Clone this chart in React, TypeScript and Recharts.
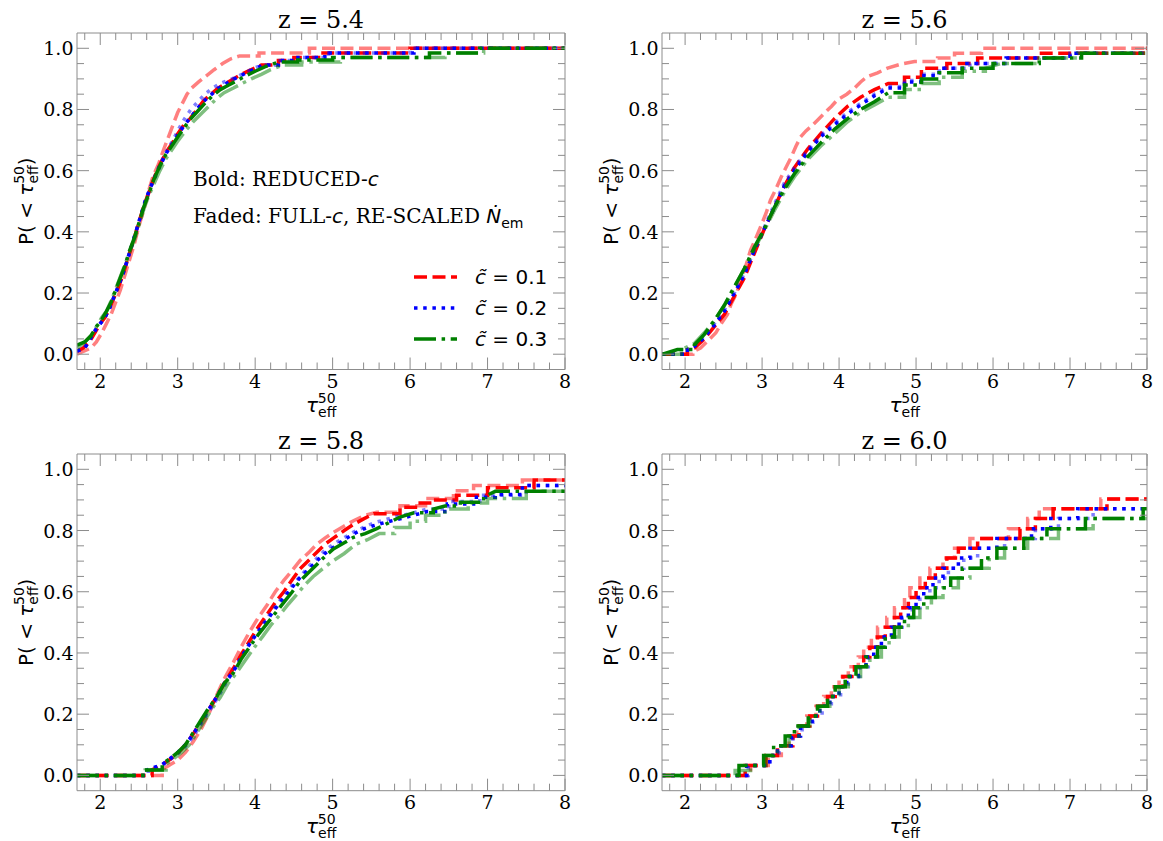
import { Legend, Line, LineChart, XAxis, YAxis } from "recharts";

const FRAME = "#8c8c8c";
const SERIF = "'DejaVu Serif', serif";
const SANS = "'DejaVu Sans', sans-serif";

// tick positions and labels
const xTicks = [1.8, 2, 2.2, 2.4, 2.6, 2.8, 3, 3.2, 3.4, 3.6, 3.8, 4, 4.2, 4.4, 4.6, 4.8, 5, 5.2, 5.4, 5.6, 5.8, 6, 6.2, 6.4, 6.6, 6.8, 7, 7.2, 7.4, 7.6, 7.8, 8];
const xMajor = [2, 3, 4, 5, 6, 7, 8];
const yTicks = [0, 0.05, 0.1, 0.15, 0.2, 0.25, 0.3, 0.35, 0.4, 0.45, 0.5, 0.55, 0.6, 0.65, 0.7, 0.75, 0.8, 0.85, 0.9, 0.95, 1];
const yMajor = [0, 0.2, 0.4, 0.6, 0.8, 1];
const X_DOMAIN: [number, number] = [1.7, 8];
const Y_DOMAIN: [number, number] = [-0.05, 1.05];

const titles = ["z = 5.4", "z = 5.6", "z = 5.8", "z = 6.0"];
const cValues = ["0.1", "0.2", "0.3"];

type P = [number, number];

// ---- z = 5.4 ----
const redBold54: P[] = [[1.7, 0.01], [1.78, 0.02], [1.86, 0.04], [1.93, 0.07], [2.0, 0.1], [2.06, 0.12], [2.12, 0.15], [2.17, 0.18], [2.22, 0.21], [2.28, 0.25], [2.33, 0.29], [2.39, 0.34], [2.45, 0.39], [2.51, 0.44], [2.57, 0.49], [2.63, 0.53], [2.7, 0.58], [2.77, 0.62], [2.85, 0.66], [2.93, 0.69], [3.0, 0.72], [3.08, 0.75], [3.16, 0.77], [3.25, 0.8], [3.34, 0.83], [3.43, 0.85], [3.52, 0.87], [3.62, 0.885], [3.72, 0.9], [3.82, 0.915], [3.95, 0.93], [4.08, 0.945], [4.3, 0.96], [4.5, 0.97], [4.85, 0.985], [6.0, 1.0], [8.0, 1.0]];
const redFaded54: P[] = [[1.7, 0.0], [1.88, 0.02], [1.95, 0.04], [2.02, 0.07], [2.08, 0.1], [2.14, 0.13], [2.2, 0.17], [2.26, 0.21], [2.32, 0.26], [2.38, 0.31], [2.44, 0.36], [2.5, 0.42], [2.56, 0.47], [2.62, 0.53], [2.68, 0.58], [2.75, 0.62], [2.82, 0.67], [2.88, 0.71], [2.94, 0.75], [3.0, 0.79], [3.06, 0.82], [3.12, 0.85], [3.18, 0.87], [3.27, 0.89], [3.37, 0.91], [3.47, 0.93], [3.58, 0.95], [3.68, 0.965], [3.8, 0.975], [4.05, 0.985], [4.7, 1.0], [8.0, 1.0]];
const blueBold54: P[] = [[1.7, 0.01], [1.8, 0.02], [1.87, 0.05], [1.94, 0.08], [2.0, 0.1], [2.06, 0.12], [2.12, 0.15], [2.18, 0.19], [2.23, 0.22], [2.29, 0.26], [2.34, 0.3], [2.4, 0.35], [2.46, 0.4], [2.52, 0.45], [2.58, 0.5], [2.64, 0.54], [2.71, 0.58], [2.78, 0.62], [2.86, 0.66], [2.94, 0.69], [3.01, 0.72], [3.09, 0.75], [3.17, 0.775], [3.26, 0.805], [3.35, 0.83], [3.44, 0.85], [3.53, 0.87], [3.63, 0.885], [3.73, 0.9], [3.85, 0.915], [3.97, 0.93], [4.1, 0.945], [4.3, 0.96], [4.52, 0.97], [4.9, 0.985], [6.05, 1.0], [8.0, 1.0]];
const blueFaded54: P[] = [[1.7, 0.01], [1.8, 0.02], [1.87, 0.05], [1.94, 0.08], [2.0, 0.1], [2.06, 0.12], [2.12, 0.15], [2.18, 0.19], [2.23, 0.22], [2.29, 0.26], [2.34, 0.3], [2.4, 0.35], [2.46, 0.4], [2.52, 0.45], [2.58, 0.5], [2.64, 0.54], [2.71, 0.585], [2.78, 0.625], [2.86, 0.665], [2.94, 0.7], [3.01, 0.735], [3.09, 0.77], [3.17, 0.8], [3.26, 0.825], [3.35, 0.85], [3.45, 0.87], [3.55, 0.885], [3.65, 0.895], [3.75, 0.905], [3.87, 0.92], [3.98, 0.935], [4.1, 0.945], [4.3, 0.96], [4.55, 0.97], [4.95, 0.985], [6.0, 1.0], [8.0, 1.0]];
const greenBold54: P[] = [[1.7, 0.03], [1.8, 0.04], [1.88, 0.06], [1.95, 0.09], [2.01, 0.11], [2.08, 0.14], [2.14, 0.17], [2.2, 0.21], [2.26, 0.25], [2.32, 0.29], [2.38, 0.34], [2.44, 0.38], [2.5, 0.43], [2.56, 0.48], [2.62, 0.52], [2.69, 0.57], [2.76, 0.61], [2.84, 0.65], [2.92, 0.68], [3.0, 0.71], [3.08, 0.74], [3.17, 0.77], [3.26, 0.795], [3.35, 0.82], [3.45, 0.845], [3.55, 0.865], [3.66, 0.88], [3.77, 0.895], [3.88, 0.91], [4.0, 0.925], [4.13, 0.94], [4.3, 0.955], [4.55, 0.962], [5.0, 0.97], [6.25, 0.985], [6.9, 1.0], [8.0, 1.0]];
const greenFaded54: P[] = [[1.7, 0.02], [1.8, 0.04], [1.88, 0.06], [1.95, 0.09], [2.02, 0.12], [2.08, 0.14], [2.15, 0.18], [2.21, 0.22], [2.27, 0.26], [2.33, 0.3], [2.39, 0.34], [2.45, 0.38], [2.51, 0.43], [2.57, 0.48], [2.63, 0.52], [2.7, 0.56], [2.77, 0.6], [2.85, 0.64], [2.93, 0.67], [3.01, 0.7], [3.1, 0.73], [3.2, 0.76], [3.3, 0.785], [3.4, 0.81], [3.5, 0.835], [3.6, 0.855], [3.72, 0.87], [3.83, 0.885], [3.95, 0.9], [4.08, 0.915], [4.2, 0.93], [4.35, 0.945], [4.6, 0.955], [5.1, 0.97], [6.45, 0.985], [6.95, 1.0], [8.0, 1.0]];

// ---- z = 5.6 ----
const redBold56: P[] = [[1.7, 0], [2.03, 0.015], [2.12, 0.02], [2.25, 0.05], [2.38, 0.09], [2.51, 0.13], [2.64, 0.19], [2.77, 0.25], [2.9, 0.33], [3.03, 0.41], [3.16, 0.48], [3.29, 0.55], [3.42, 0.61], [3.59, 0.67], [3.76, 0.72], [3.94, 0.77], [4.11, 0.81], [4.28, 0.84], [4.46, 0.865], [4.64, 0.885], [4.85, 0.905], [5.07, 0.935], [5.4, 0.95], [5.8, 0.968], [6.6, 0.984], [7.95, 1.0], [8.0, 1.0]];
const redFaded56: P[] = [[1.7, 0], [2.1, 0.008], [2.2, 0.02], [2.3, 0.045], [2.4, 0.07], [2.47, 0.1], [2.55, 0.13], [2.6, 0.165], [2.67, 0.2], [2.72, 0.24], [2.79, 0.29], [2.85, 0.34], [2.92, 0.38], [2.98, 0.416], [3.05, 0.46], [3.11, 0.504], [3.18, 0.54], [3.25, 0.58], [3.32, 0.615], [3.38, 0.645], [3.44, 0.68], [3.5, 0.71], [3.57, 0.73], [3.64, 0.745], [3.72, 0.765], [3.81, 0.788], [3.9, 0.81], [3.98, 0.832], [4.1, 0.85], [4.2, 0.87], [4.28, 0.89], [4.37, 0.908], [4.5, 0.92], [4.63, 0.935], [4.8, 0.948], [4.98, 0.957], [5.28, 0.968], [5.5, 0.984], [5.85, 1.0], [8.0, 1.0]];
const blueBold56: P[] = [[1.7, 0], [2.03, 0.015], [2.12, 0.025], [2.25, 0.055], [2.38, 0.095], [2.51, 0.14], [2.64, 0.2], [2.77, 0.26], [2.9, 0.34], [3.03, 0.41], [3.16, 0.48], [3.29, 0.55], [3.42, 0.6], [3.59, 0.66], [3.76, 0.71], [3.94, 0.75], [4.11, 0.785], [4.28, 0.815], [4.46, 0.845], [4.64, 0.87], [4.85, 0.89], [5.07, 0.91], [5.3, 0.935], [5.6, 0.95], [6.17, 0.968], [7.0, 0.984], [8.0, 0.984]];
const blueFaded56: P[] = [[1.7, 0], [2.0, 0.01], [2.12, 0.03], [2.25, 0.06], [2.38, 0.1], [2.51, 0.145], [2.64, 0.2], [2.77, 0.265], [2.9, 0.34], [3.03, 0.415], [3.16, 0.49], [3.29, 0.56], [3.42, 0.61], [3.59, 0.665], [3.76, 0.715], [3.94, 0.755], [4.11, 0.79], [4.28, 0.82], [4.46, 0.85], [4.64, 0.875], [4.85, 0.895], [5.07, 0.915], [5.3, 0.935], [5.7, 0.95], [6.2, 0.968], [7.0, 0.984], [8.0, 0.984]];
const greenBold56: P[] = [[1.7, 0], [1.9, 0.015], [2.12, 0.03], [2.25, 0.065], [2.38, 0.11], [2.51, 0.16], [2.64, 0.22], [2.77, 0.28], [2.9, 0.35], [3.03, 0.41], [3.16, 0.48], [3.29, 0.54], [3.42, 0.59], [3.59, 0.645], [3.76, 0.69], [3.94, 0.735], [4.11, 0.77], [4.28, 0.8], [4.46, 0.825], [4.64, 0.855], [4.85, 0.88], [5.07, 0.9], [5.3, 0.92], [5.6, 0.935], [6.0, 0.95], [6.6, 0.968], [7.15, 0.984], [8.0, 0.984]];
const greenFaded56: P[] = [[1.7, 0], [1.95, 0.015], [2.12, 0.035], [2.25, 0.07], [2.38, 0.11], [2.51, 0.16], [2.64, 0.22], [2.77, 0.28], [2.9, 0.345], [3.03, 0.405], [3.16, 0.47], [3.29, 0.53], [3.42, 0.58], [3.59, 0.635], [3.76, 0.68], [3.94, 0.72], [4.11, 0.76], [4.28, 0.79], [4.46, 0.815], [4.64, 0.84], [4.85, 0.865], [5.07, 0.885], [5.3, 0.905], [5.6, 0.925], [5.9, 0.935], [6.1, 0.95], [6.6, 0.968], [7.1, 0.984], [8.0, 0.984]];

// ---- z = 5.8 ----
const redBold58: P[] = [[1.7, 0], [2.67, 0.018], [2.8, 0.035], [2.9, 0.052], [3.0, 0.072], [3.1, 0.1], [3.2, 0.135], [3.3, 0.175], [3.4, 0.215], [3.5, 0.255], [3.6, 0.3], [3.72, 0.35], [3.82, 0.395], [3.93, 0.44], [4.04, 0.485], [4.15, 0.525], [4.26, 0.565], [4.37, 0.6], [4.48, 0.64], [4.58, 0.675], [4.7, 0.705], [4.8, 0.73], [4.9, 0.755], [5.01, 0.775], [5.15, 0.8], [5.27, 0.82], [5.4, 0.838], [5.53, 0.855], [5.87, 0.876], [6.1, 0.89], [6.3, 0.9], [6.6, 0.915], [7.0, 0.94], [7.6, 0.965], [8.0, 0.965]];
const redFaded58: P[] = [[1.7, 0], [2.8, 0.018], [2.9, 0.035], [3.0, 0.05], [3.1, 0.075], [3.2, 0.11], [3.3, 0.15], [3.4, 0.2], [3.5, 0.26], [3.6, 0.315], [3.72, 0.37], [3.82, 0.42], [3.93, 0.47], [4.04, 0.515], [4.15, 0.555], [4.26, 0.6], [4.37, 0.637], [4.48, 0.67], [4.58, 0.702], [4.7, 0.73], [4.8, 0.756], [4.9, 0.775], [5.01, 0.794], [5.15, 0.815], [5.27, 0.832], [5.4, 0.848], [5.57, 0.86], [5.87, 0.881], [6.2, 0.905], [6.56, 0.93], [6.82, 0.947], [7.45, 0.965], [8.0, 0.965]];
const blueBold58: P[] = [[1.7, 0], [2.6, 0.018], [2.8, 0.035], [2.9, 0.055], [3.0, 0.075], [3.1, 0.1], [3.2, 0.135], [3.3, 0.175], [3.4, 0.215], [3.5, 0.255], [3.6, 0.3], [3.72, 0.34], [3.82, 0.385], [3.93, 0.43], [4.04, 0.47], [4.15, 0.506], [4.26, 0.545], [4.37, 0.58], [4.48, 0.615], [4.58, 0.647], [4.7, 0.675], [4.8, 0.702], [4.9, 0.725], [5.01, 0.745], [5.15, 0.77], [5.27, 0.789], [5.4, 0.805], [5.53, 0.816], [5.7, 0.828], [5.87, 0.838], [6.05, 0.85], [6.22, 0.862], [6.48, 0.887], [6.82, 0.909], [7.1, 0.918], [7.45, 0.947], [8.0, 0.947]];
const blueFaded58: P[] = [[1.7, 0], [2.62, 0.018], [2.82, 0.035], [2.92, 0.055], [3.02, 0.075], [3.12, 0.1], [3.22, 0.135], [3.32, 0.175], [3.42, 0.215], [3.52, 0.255], [3.62, 0.3], [3.73, 0.345], [3.83, 0.39], [3.94, 0.435], [4.05, 0.475], [4.16, 0.515], [4.27, 0.555], [4.38, 0.59], [4.49, 0.625], [4.6, 0.655], [4.7, 0.685], [4.8, 0.71], [4.9, 0.735], [5.01, 0.755], [5.15, 0.777], [5.27, 0.795], [5.4, 0.81], [5.53, 0.825], [5.7, 0.837], [5.87, 0.848], [6.05, 0.858], [6.22, 0.87], [6.5, 0.895], [6.9, 0.915], [7.5, 0.947], [8.0, 0.947]];
const greenBold58: P[] = [[1.7, 0], [2.55, 0.018], [2.8, 0.037], [2.9, 0.055], [3.0, 0.075], [3.1, 0.1], [3.2, 0.14], [3.3, 0.18], [3.4, 0.22], [3.5, 0.255], [3.6, 0.3], [3.72, 0.335], [3.82, 0.38], [3.93, 0.42], [4.04, 0.46], [4.15, 0.495], [4.26, 0.53], [4.37, 0.565], [4.48, 0.6], [4.58, 0.635], [4.7, 0.665], [4.8, 0.69], [4.9, 0.715], [5.01, 0.74], [5.15, 0.76], [5.27, 0.778], [5.42, 0.79], [5.57, 0.806], [5.72, 0.825], [5.87, 0.844], [6.05, 0.858], [6.3, 0.87], [6.45, 0.88], [6.65, 0.892], [6.95, 0.91], [7.1, 0.928], [8.0, 0.928]];
const greenFaded58: P[] = [[1.7, 0], [2.58, 0.018], [2.85, 0.037], [2.95, 0.055], [3.05, 0.075], [3.15, 0.1], [3.25, 0.14], [3.35, 0.18], [3.45, 0.22], [3.55, 0.255], [3.65, 0.3], [3.76, 0.335], [3.87, 0.375], [3.98, 0.415], [4.1, 0.455], [4.2, 0.49], [4.32, 0.525], [4.43, 0.56], [4.55, 0.595], [4.65, 0.625], [4.75, 0.65], [4.87, 0.675], [5.0, 0.7], [5.15, 0.725], [5.3, 0.755], [5.45, 0.77], [5.6, 0.79], [5.8, 0.81], [6.0, 0.83], [6.2, 0.85], [6.45, 0.87], [6.75, 0.89], [7.0, 0.905], [7.5, 0.928], [8.0, 0.928]];

// ---- z = 6.0 ----
const redBold60: P[] = [[1.7, 0], [2.78, 0.032], [3.05, 0.065], [3.2, 0.097], [3.4, 0.129], [3.48, 0.161], [3.62, 0.194], [3.72, 0.226], [3.85, 0.258], [3.95, 0.29], [4.05, 0.323], [4.2, 0.355], [4.32, 0.387], [4.4, 0.419], [4.5, 0.452], [4.6, 0.484], [4.72, 0.516], [4.8, 0.548], [4.9, 0.581], [5.0, 0.613], [5.12, 0.645], [5.25, 0.677], [5.4, 0.71], [5.55, 0.742], [5.8, 0.774], [6.35, 0.806], [6.55, 0.839], [6.78, 0.871], [7.48, 0.903], [8.0, 0.903]];
const redFaded60: P[] = [[1.7, 0], [2.85, 0.032], [3.08, 0.065], [3.25, 0.097], [3.35, 0.129], [3.45, 0.161], [3.58, 0.194], [3.7, 0.226], [3.8, 0.258], [3.9, 0.29], [4.0, 0.323], [4.12, 0.355], [4.25, 0.387], [4.32, 0.419], [4.42, 0.452], [4.5, 0.484], [4.62, 0.516], [4.72, 0.548], [4.85, 0.581], [4.92, 0.613], [5.05, 0.645], [5.18, 0.677], [5.35, 0.71], [5.5, 0.742], [5.7, 0.774], [6.2, 0.806], [6.45, 0.839], [6.6, 0.871], [7.4, 0.903], [8.0, 0.903]];
const blueBold60: P[] = [[1.7, 0], [2.8, 0.032], [3.1, 0.065], [3.2, 0.097], [3.38, 0.129], [3.5, 0.161], [3.65, 0.194], [3.75, 0.226], [3.88, 0.258], [4.0, 0.29], [4.1, 0.323], [4.25, 0.355], [4.35, 0.387], [4.45, 0.419], [4.55, 0.452], [4.68, 0.484], [4.78, 0.516], [4.9, 0.548], [5.0, 0.581], [5.1, 0.613], [5.22, 0.645], [5.35, 0.677], [5.55, 0.71], [5.7, 0.742], [6.05, 0.774], [6.5, 0.806], [6.75, 0.839], [7.1, 0.871], [8.0, 0.871]];
const blueFaded60: P[] = [[1.7, 0], [2.82, 0.032], [3.1, 0.065], [3.22, 0.097], [3.4, 0.129], [3.52, 0.161], [3.66, 0.194], [3.78, 0.226], [3.9, 0.258], [4.02, 0.29], [4.12, 0.323], [4.27, 0.355], [4.38, 0.387], [4.48, 0.419], [4.6, 0.452], [4.72, 0.484], [4.82, 0.516], [4.95, 0.548], [5.05, 0.581], [5.18, 0.613], [5.3, 0.645], [5.42, 0.677], [5.62, 0.71], [5.8, 0.742], [6.15, 0.774], [6.55, 0.806], [6.85, 0.839], [7.3, 0.871], [8.0, 0.871]];
const greenBold60: P[] = [[1.7, 0], [2.7, 0.032], [3.02, 0.065], [3.15, 0.097], [3.3, 0.129], [3.42, 0.161], [3.6, 0.194], [3.72, 0.226], [3.85, 0.258], [3.95, 0.29], [4.08, 0.323], [4.22, 0.355], [4.35, 0.387], [4.5, 0.419], [4.6, 0.452], [4.72, 0.484], [4.85, 0.516], [4.97, 0.548], [5.1, 0.581], [5.25, 0.613], [5.45, 0.645], [5.6, 0.677], [5.85, 0.71], [6.05, 0.742], [6.4, 0.774], [6.7, 0.806], [7.2, 0.839], [7.95, 0.871], [8.0, 0.871]];
const greenFaded60: P[] = [[1.7, 0], [2.65, 0.016], [2.85, 0.032], [3.05, 0.065], [3.2, 0.097], [3.35, 0.129], [3.48, 0.161], [3.62, 0.194], [3.75, 0.226], [3.88, 0.258], [4.0, 0.29], [4.12, 0.323], [4.28, 0.355], [4.4, 0.387], [4.55, 0.419], [4.65, 0.452], [4.78, 0.484], [4.9, 0.516], [5.05, 0.548], [5.2, 0.581], [5.35, 0.613], [5.55, 0.645], [5.7, 0.677], [5.95, 0.71], [6.15, 0.742], [6.45, 0.774], [6.85, 0.806], [7.3, 0.839], [8.0, 0.839]];

const STYLE: Record<string, { color: string; dash: string }> = {
  red: { color: "#ff0000", dash: "13 5.5" },
  blue: { color: "#0000ff", dash: "3.5 5.7" },
  green: { color: "#008000", dash: "22 5.6 3.5 5.6" },
};
const COLORS = ["red", "blue", "green"];
const legendNames = cValues.map((c) => `c = ${c}`);

type PanelCfg = {
  title: string;
  left: number;
  top: number;
  width: number;
  height: number;
  right: number;
  bottom: number;
  bold: P[][];
  faded: P[][];
  stepped: boolean;
  legend?: boolean;
};

const panels: PanelCfg[] = [
  { title: titles[0], left: 0, top: 0, width: 585, height: 420, right: 12, bottom: 20.5, bold: [redBold54, blueBold54, greenBold54], faded: [redFaded54, blueFaded54, greenFaded54], stepped: false, legend: true },
  { title: titles[1], left: 585, top: 0, width: 578, height: 420, right: 8, bottom: 20.5, bold: [redBold56, blueBold56, greenBold56], faded: [redFaded56, blueFaded56, greenFaded56], stepped: false },
  { title: titles[2], left: 0, top: 421, width: 585, height: 420, right: 12, bottom: 20.3, bold: [redBold58, blueBold58, greenBold58], faded: [redFaded58, blueFaded58, greenFaded58], stepped: false },
  { title: titles[3], left: 585, top: 421, width: 578, height: 420, right: 8, bottom: 20.3, bold: [redBold60, blueBold60, greenBold60], faded: [redFaded60, blueFaded60, greenFaded60], stepped: true },
];

// CDF rows: where two read points are far apart the curve stays flat and then jumps
const toRows = (pts: P[]) => {
  const rows: { tau: number; p: number }[] = [];
  pts.forEach(([tau, p], i) => {
    if (i > 0 && tau - pts[i - 1][0] >= 0.2) rows.push({ tau, p: pts[i - 1][1] });
    rows.push({ tau, p });
  });
  return rows;
};
const isMajor = (v: number, majors: number[]) => majors.some((m) => Math.abs(m - v) < 1e-6);

const BottomTick = (props: any) => {
  const { x, y, payload } = props;
  const major = isMajor(payload.value, xMajor);
  return (
    <g>
      <line x1={x} x2={x} y1={y} y2={y - (major ? 12 : 7)} stroke={FRAME} />
      {major && (
        <text x={x} y={y + 18} textAnchor="middle" fontFamily={SERIF} fontSize={19} fill="#000">
          {payload.value}
        </text>
      )}
    </g>
  );
};

const TopTick = (props: any) => {
  const { x, y, payload } = props;
  const major = isMajor(payload.value, xMajor);
  return <line x1={x} x2={x} y1={y} y2={y + (major ? 12 : 7)} stroke={FRAME} />;
};

const LeftTick = (props: any) => {
  const { x, y, payload } = props;
  const major = isMajor(payload.value, yMajor);
  return (
    <g>
      <line x1={x} x2={x + (major ? 12 : 7)} y1={y} y2={y} stroke={FRAME} />
      {major && (
        <text x={x - 3.5} y={y + 7} textAnchor="end" fontFamily={SERIF} fontSize={19} fill="#000">
          {Number(payload.value).toFixed(1)}
        </text>
      )}
    </g>
  );
};

const RightTick = (props: any) => {
  const { x, y, payload } = props;
  const major = isMajor(payload.value, yMajor);
  return <line x1={x} x2={x - (major ? 12 : 7)} y1={y} y2={y} stroke={FRAME} />;
};

const TitleLabel = ({ viewBox, text }: any) => {
  const { x, y, width, height } = viewBox;
  return (
    <text x={x + width / 2} y={y + height - 5.5} textAnchor="middle" fontFamily={SERIF} fontSize={24} fill="#000">
      {text}
    </text>
  );
};

const TauLabel = ({ viewBox }: any) => {
  const { x, y, width } = viewBox;
  const cx = x + width / 2;
  return (
    <text x={cx - 15} y={y + 42} fontFamily={SANS} fontSize={20} fill="#000">
      <tspan fontStyle="italic">τ</tspan>
      <tspan fontSize={14} dy={5}>eff</tspan>
      <tspan fontSize={14} dx={-18.5} dy={-14}>50</tspan>
    </text>
  );
};

const PLabel = ({ viewBox }: any) => {
  const { x, y, width, height } = viewBox;
  const bx = x + width - 44;
  const cy = y + height / 2;
  return (
    <g transform={`translate(${bx},${cy}) rotate(-90)`}>
      <text x={0} y={0} textAnchor="middle" fontFamily={SANS} fontSize={20} fill="#000">
        <tspan>P( &lt; </tspan>
        <tspan fontStyle="italic">τ</tspan>
        <tspan fontSize={14} dy={5}>eff</tspan>
        <tspan fontSize={14} dx={-18.5} dy={-14}>50</tspan>
        <tspan dx={0.7} dy={9}>)</tspan>
      </text>
    </g>
  );
};

const LegendBox = ({ payload }: any) => {
  const entries = (payload || []).filter((e: any) => legendNames.includes(e.value));
  return (
    <svg width={165} height={95} style={{ display: "block" }}>
      {entries.map((entry: any) => {
        const i = legendNames.indexOf(entry.value);
        const st = STYLE[COLORS[i]];
        const cy = 15 + i * 31;
        return (
          <g key={entry.value}>
            <line x1={14} x2={57} y1={cy} y2={cy} stroke={st.color} strokeWidth={3.5} strokeDasharray={st.dash} />
            <text x={75} y={cy + 7} fontFamily={SANS} fontSize={20} fill="#000">
              <tspan fontStyle="italic">c̃</tspan> = {cValues[i]}
            </text>
          </g>
        );
      })}
    </svg>
  );
};

const Panel = ({ cfg }: { cfg: PanelCfg }) => {
  const series: any[] = [];
  COLORS.forEach((c, i) => {
    series.push({ key: `${c}-bold`, data: cfg.bold[i], color: c, faded: false, name: legendNames[i] });
    series.push({ key: `${c}-faded`, data: cfg.faded[i], color: c, faded: true, name: `faded ${cValues[i]}` });
  });
  return (
    <div style={{ position: "absolute", left: cfg.left, top: cfg.top }}>
      <LineChart width={cfg.width} height={cfg.height} margin={{ top: 25, left: 27, right: cfg.right, bottom: cfg.bottom }}>
        <XAxis
          xAxisId="b"
          type="number"
          dataKey="tau"
          domain={X_DOMAIN}
          allowDataOverflow
          ticks={xTicks}
          interval={0}
          tick={<BottomTick />}
          tickSize={0}
          tickMargin={0}
          tickLine={false}
          axisLine={{ stroke: FRAME }}
          height={30}
          label={{ content: (p: any) => <TauLabel viewBox={p.viewBox} /> }}
        />
        <XAxis
          xAxisId="t"
          orientation="top"
          type="number"
          dataKey="tau"
          domain={X_DOMAIN}
          allowDataOverflow
          ticks={xTicks}
          interval={0}
          tick={<TopTick />}
          tickSize={0}
          tickMargin={0}
          tickLine={false}
          axisLine={{ stroke: FRAME }}
          height={8}
          label={{ content: (p: any) => <TitleLabel viewBox={p.viewBox} text={cfg.title} /> }}
        />
        <YAxis
          yAxisId="l"
          type="number"
          domain={Y_DOMAIN}
          allowDataOverflow
          ticks={yTicks}
          interval={0}
          tick={<LeftTick />}
          tickSize={0}
          tickMargin={0}
          tickLine={false}
          axisLine={{ stroke: FRAME }}
          width={50}
          label={{ content: (p: any) => <PLabel viewBox={p.viewBox} /> }}
        />
        <YAxis
          yAxisId="r"
          orientation="right"
          type="number"
          domain={Y_DOMAIN}
          allowDataOverflow
          ticks={yTicks}
          interval={0}
          tick={<RightTick />}
          tickSize={0}
          tickMargin={0}
          tickLine={false}
          axisLine={{ stroke: FRAME }}
          width={8}
        />
        {series.map((s) => (
          <Line
            key={s.key}
            xAxisId="b"
            yAxisId="l"
            data={cfg.stepped ? s.data.map(([tau, p]: P) => ({ tau, p })) : toRows(s.data)}
            dataKey="p"
            name={s.name}
            type={cfg.stepped ? "stepAfter" : "linear"}
            stroke={STYLE[s.color].color}
            strokeOpacity={s.faded ? 0.5 : 1}
            strokeWidth={3.5}
            strokeDasharray={STYLE[s.color].dash}
            dot={false}
            activeDot={false}
            legendType={s.faded ? "none" : "line"}
            isAnimationActive={false}
          />
        ))}
        {cfg.legend && (
          <Legend
            layout="vertical"
            align="center"
            verticalAlign="middle"
            wrapperStyle={{ left: 400, top: 262, width: 165, height: 95 }}
            content={(p: any) => <LegendBox payload={p.payload} />}
          />
        )}
      </LineChart>
    </div>
  );
};

export default function App() {
  return (
    <div style={{ position: "absolute", left: 0, top: 0, width: 1163, height: 841, overflow: "hidden", background: "#fff" }}>
      {panels.map((cfg) => (
        <Panel key={cfg.title} cfg={cfg} />
      ))}
      <svg style={{ position: "absolute", left: 190, top: 160 }} width={380} height={80}>
        <text x={3} y={26} fontFamily={SERIF} fontSize={20} fill="#000">
          Bold: REDUCED-<tspan fontFamily={SANS} fontStyle="italic">c</tspan>
        </text>
        <text x={3} y={63} fontFamily={SERIF} fontSize={20} fill="#000">
          Faded: FULL-<tspan fontFamily={SANS} fontStyle="italic">c</tspan>, RE-SCALED{" "}
          <tspan fontFamily={SANS} fontStyle="italic">Ṅ</tspan>
          <tspan fontFamily={SANS} fontSize={14} dy={5}>em</tspan>
        </text>
      </svg>
    </div>
  );
}
